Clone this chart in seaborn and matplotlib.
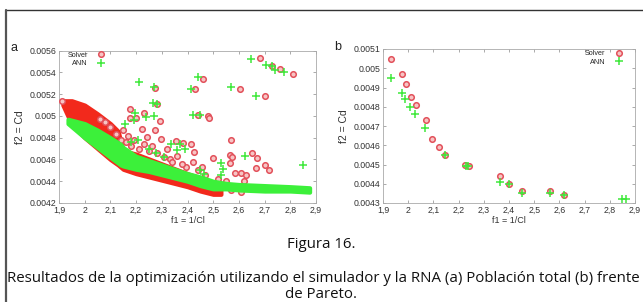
import numpy as np
import pandas as pd
import matplotlib
matplotlib.use("Agg")
import matplotlib.pyplot as plt
from matplotlib.lines import Line2D
import seaborn as sns

sns.set_theme(style="white")
plt.rcParams['font.family'] = ['Liberation Sans', 'DejaVu Sans']

# ---------------- Data: panel a (total population) ----------------
# dense Solver band (drawn under ANN)
solver_band_x = [1.915, 1.95, 2.0, 2.05, 2.1, 2.13, 2.15, 2.2, 2.3, 2.4, 2.45, 2.5, 2.53]
solver_band_hi = [0.00514, 0.00514, 0.00510, 0.00502, 0.00493, 0.00486, 0.00468, 0.00465, 0.00456, 0.00447, 0.00443, 0.00438, 0.00436]
solver_band_lo = [0.00510, 0.00492, 0.00480, 0.00470, 0.00460, 0.00455, 0.00451, 0.00447, 0.00441, 0.00435, 0.00431, 0.00428, 0.00428]

# dense ANN band
ann_band_x = [1.935, 2.0, 2.05, 2.1, 2.14, 2.15, 2.2, 2.25, 2.3, 2.35, 2.4, 2.45, 2.5, 2.55, 2.6, 2.7, 2.8, 2.875]
ann_band_hi = [0.00497, 0.00493, 0.00487, 0.00480, 0.00474, 0.00471, 0.00463, 0.00459, 0.00455, 0.00451, 0.00447, 0.00444, 0.00440, 0.00438, 0.00437, 0.00436, 0.00435, 0.00434]
ann_band_lo = [0.00493, 0.00480, 0.00471, 0.00462, 0.00455, 0.00454, 0.00451, 0.00449, 0.00446, 0.00443, 0.00440, 0.00436, 0.00433, 0.00433, 0.00432, 0.00431, 0.00431, 0.00430]

# scattered Solver points
solver_a_x = [1.913, 2.682, 2.730, 2.760, 2.809, 2.459, 2.431, 2.604, 2.702, 2.275, 2.281,
              2.175, 2.229, 2.201, 2.175, 2.294, 2.441, 2.478, 2.483, 2.222, 2.275, 2.243, 2.298,
              2.354, 2.382, 2.412, 2.425, 2.500, 2.569, 2.565, 2.651, 2.671, 2.665, 2.702, 2.719,
              2.607, 2.585, 2.627, 2.618, 2.457, 2.393, 2.567, 2.572, 2.420, 2.358, 2.609, 2.568,
              2.150, 2.170, 2.190, 2.320, 2.260, 2.330, 2.380, 2.140, 2.120, 2.100, 2.080, 2.060,
              2.210, 2.230, 2.250, 2.280, 2.310, 2.340, 2.440, 2.470, 2.520, 2.550, 2.160, 2.180]
solver_a_y = [0.00514, 0.00553, 0.00546, 0.00543, 0.00539, 0.00534, 0.00525, 0.00525, 0.00518, 0.00526, 0.00511,
              0.00506, 0.00503, 0.00498, 0.00498, 0.00495, 0.00501, 0.00500, 0.00498, 0.00488, 0.00487, 0.00481, 0.00479,
              0.00477, 0.00475, 0.00474, 0.00467, 0.00461, 0.00478, 0.00464, 0.00466, 0.00461, 0.00452, 0.00455, 0.00450,
              0.00448, 0.00448, 0.00446, 0.00440, 0.00453, 0.00453, 0.00457, 0.00462, 0.00458, 0.00463, 0.00430, 0.00432,
              0.00487, 0.00482, 0.00478, 0.00470, 0.00472, 0.00460, 0.00456, 0.00478, 0.00483, 0.00490, 0.00494, 0.00497,
              0.00470, 0.00474, 0.00468, 0.00466, 0.00462, 0.00458, 0.00450, 0.00446, 0.00442, 0.00440, 0.00476, 0.00472]

# scattered ANN points
ann_a_x = [2.648, 2.707, 2.730, 2.740, 2.776, 2.442, 2.213, 2.571, 2.415, 2.268, 2.264, 2.282,
           2.667, 2.422, 2.450, 2.195, 2.191, 2.157, 2.240, 2.268, 2.209, 2.335, 2.369, 2.360,
           2.390, 2.307, 2.276, 2.622, 2.849, 2.532, 2.539, 2.448, 2.463, 2.530, 2.250, 2.180]
ann_a_y = [0.00552, 0.00547, 0.00546, 0.00542, 0.00540, 0.00536, 0.00531, 0.00527, 0.00525, 0.00527, 0.00512, 0.00511,
           0.00518, 0.00501, 0.00501, 0.00503, 0.00496, 0.00493, 0.00499, 0.00500, 0.00478, 0.00474, 0.00474, 0.00469,
           0.00470, 0.00462, 0.00466, 0.00463, 0.00455, 0.00457, 0.00451, 0.00450, 0.00447, 0.00446, 0.00470, 0.00476]

# ---------------- Data: panel b (Pareto front) ----------------
solver_b_x = [1.930, 1.974, 1.993, 2.013, 2.032, 2.070, 2.096, 2.121, 2.145, 2.227, 2.242, 2.364, 2.399, 2.450, 2.562, 2.618]
solver_b_y = [0.00505, 0.00497, 0.00492, 0.00485, 0.00481, 0.00473, 0.00463, 0.00459, 0.00455, 0.00450, 0.00449, 0.00444, 0.00440, 0.00436, 0.00436, 0.00434]
ann_b_x = [1.930, 1.974, 1.986, 2.006, 2.028, 2.066, 2.145, 2.231, 2.238, 2.364, 2.399, 2.450, 2.562, 2.618, 2.847, 2.864]
ann_b_y = [0.00495, 0.00487, 0.00484, 0.00480, 0.00476, 0.00469, 0.00455, 0.00449, 0.00449, 0.00441, 0.00440, 0.00435, 0.00435, 0.00434, 0.00432, 0.00432]

xticks = [1.9, 2.0, 2.1, 2.2, 2.3, 2.4, 2.5, 2.6, 2.7, 2.8, 2.9]
xtick_labels = ["1,9", "2", "2,1", "2,2", "2,3", "2,4", "2,5", "2,6", "2,7", "2,8", "2,9"]
yticks_a = [0.0042, 0.0044, 0.0046, 0.0048, 0.005, 0.0052, 0.0054, 0.0056]
ytick_labels_a = ["0.0042", "0.0044", "0.0046", "0.0048", "0.005", "0.0052", "0.0054", "0.0056"]
yticks_b = [0.0043, 0.0044, 0.0045, 0.0046, 0.0047, 0.0048, 0.0049, 0.005, 0.0051]
ytick_labels_b = ["0.0043", "0.0044", "0.0045", "0.0046", "0.0047", "0.0048", "0.0049", "0.005", "0.0051"]

RED_DENSE = "#f2291c"
GREEN_DENSE = "#3cf03a"
RED_EDGE = "#e2505a"
RED_FACE = "#f7c4c4"
GREEN_PLUS = "#3ee83a"

fig = plt.figure(figsize=(6.43, 3.02), dpi=100)
fig.patch.set_facecolor("white")

ax_a = fig.add_axes([59 / 643, 1 - 203 / 302, (316 - 59) / 643, (203 - 50.7) / 302])
ax_b = fig.add_axes([383 / 643, 1 - 203 / 302, (635 - 383) / 643, (203 - 49) / 302])

circle_kw = dict(marker="o", s=16, facecolor=RED_FACE, edgecolor=RED_EDGE, linewidth=1.1)
plus_kw = dict(marker="+", s=30, color=GREEN_PLUS, linewidth=1.1)

# panel a
ax_a.fill_between(solver_band_x, solver_band_lo, solver_band_hi, color=RED_DENSE, lw=3, edgecolor=RED_DENSE, zorder=2)
sns.scatterplot(x=solver_a_x, y=solver_a_y, ax=ax_a, zorder=3, **circle_kw)
ax_a.fill_between(ann_band_x, ann_band_lo, ann_band_hi, color=GREEN_DENSE, lw=3, edgecolor=GREEN_DENSE, zorder=4)
sns.scatterplot(x=ann_a_x, y=ann_a_y, ax=ax_a, zorder=5, **plus_kw)

# panel b
sns.scatterplot(x=solver_b_x, y=solver_b_y, ax=ax_b, zorder=3, **circle_kw)
sns.scatterplot(x=ann_b_x, y=ann_b_y, ax=ax_b, zorder=4, **plus_kw)

for ax, yt, ytl, ylim in [(ax_a, yticks_a, ytick_labels_a, (0.0042, 0.0056)),
                          (ax_b, yticks_b, ytick_labels_b, (0.0043, 0.0051))]:
    ax.set_xlim(1.9, 2.9)
    ax.set_ylim(*ylim)
    ax.set_xticks(xticks)
    ax.set_xticklabels(xtick_labels)
    ax.set_yticks(yt)
    ax.set_yticklabels(ytl)
    ax.tick_params(direction="in", length=2.5, width=0.5, color="#888888", labelsize=6.3,
                   labelcolor="#333333", pad=2, top=True, right=True, bottom=True, left=True)
    for sp in ax.spines.values():
        sp.set_color("#aaaaaa")
        sp.set_linewidth(0.6)
    ax.set_xlabel("f1 = 1/Cl", fontsize=6.5, color="#333333", labelpad=1)
    ax.set_ylabel("f2 = Cd", fontsize=7.5, color="#333333", labelpad=3)

handles = [Line2D([], [], linestyle="none", marker="o", markersize=4, markerfacecolor=RED_FACE,
                  markeredgecolor=RED_EDGE, markeredgewidth=1.1),
           Line2D([], [], linestyle="none", marker="+", markersize=5.5, color=GREEN_PLUS, markeredgewidth=1.1)]
for ax, loc, anchor in [(ax_a, "upper left", (0.01, 1.03)), (ax_b, "upper right", (0.975, 1.03))]:
    ax.legend(handles, ["Solver", "ANN"], loc=loc, bbox_to_anchor=anchor, frameon=False,
              markerfirst=False, fontsize=5.2, handlelength=1.2, handletextpad=1.2,
              labelspacing=0.2, borderpad=0.3)

fig.text(14 / 643, 1 - 48 / 302, "a", fontsize=9, ha="center", va="center", color="#222222")
fig.text(338 / 643, 1 - 47 / 302, "b", fontsize=9, ha="center", va="center", color="#222222")

cap_font = ['Open Sans', 'DejaVu Sans']
fig.text(321 / 643, 1 - 245 / 302, "Figura 16.", fontsize=10.8, ha="center", va="center",
         family=cap_font, color="#111111")
fig.text(323.5 / 643, 1 - 278 / 302,
         "Resultados de la optimización utilizando el simulador y la RNA (a) Población total (b) frente",
         fontsize=10.8, ha="center", va="center", family=cap_font, color="#111111")
fig.text(321 / 643, 1 - 294 / 302, "de Pareto.", fontsize=10.8, ha="center", va="center",
         family=cap_font, color="#111111")

# surrounding frame (top and left rules)
fig.add_artist(Line2D([6 / 643, 1.0], [1 - 10 / 302, 1 - 10 / 302], transform=fig.transFigure,
                      color="#333333", linewidth=1.0))
fig.add_artist(Line2D([6 / 643, 6 / 643], [0.0, 1 - 10 / 302], transform=fig.transFigure,
                      color="#555555", linewidth=1.6))

fig.savefig("out.png", dpi=100)
